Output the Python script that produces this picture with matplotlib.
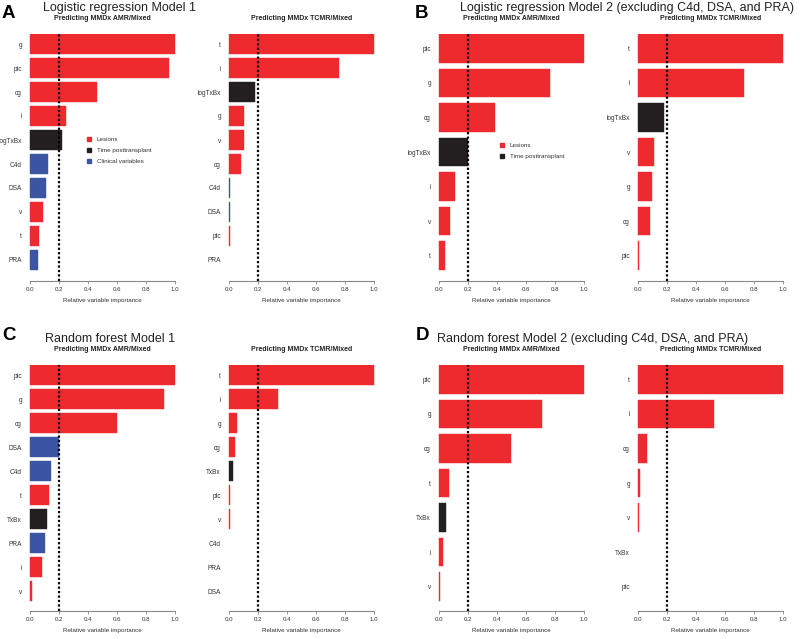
import matplotlib
matplotlib.use('Agg')
import matplotlib.pyplot as plt
from matplotlib.lines import Line2D

plt.rcParams['font.family'] = ['Liberation Sans', 'DejaVu Sans']

W, H = 800, 639

# group codes: L = lesion, T = time posttransplant, C = clinical variable
colors = {'L': '#EE2A2E', 'T': '#231F20', 'C': '#3B54A3'}

# A: logistic regression model 1
a_amr_vars = ['g', 'ptc', 'cg', 'i', 'logTxBx', 'C4d', 'DSA', 'v', 't', 'PRA']
a_amr_vals = [1.0, 0.96, 0.464, 0.246, 0.221, 0.124, 0.108, 0.092, 0.064, 0.055]
a_amr_grp = ['L', 'L', 'L', 'L', 'T', 'C', 'C', 'L', 'L', 'C']

a_tcmr_vars = ['t', 'i', 'logTxBx', 'g', 'v', 'cg', 'C4d', 'DSA', 'ptc', 'PRA']
a_tcmr_vals = [1.0, 0.759, 0.179, 0.103, 0.101, 0.083, 0.009, 0.007, 0.007, 0.0]
a_tcmr_grp = ['L', 'L', 'T', 'L', 'L', 'L', 'C', 'C', 'L', 'C']

# B: logistic regression model 2
b_amr_vars = ['ptc', 'g', 'cg', 'logTxBx', 'i', 'v', 't']
b_amr_vals = [1.0, 0.766, 0.384, 0.198, 0.108, 0.074, 0.039]
b_amr_grp = ['L', 'L', 'L', 'T', 'L', 'L', 'L']

b_tcmr_vars = ['t', 'i', 'logTxBx', 'v', 'g', 'cg', 'ptc']
b_tcmr_vals = [1.0, 0.731, 0.177, 0.108, 0.099, 0.083, 0.007]
b_tcmr_grp = ['L', 'L', 'T', 'L', 'L', 'L', 'L']

# C: random forest model 1
c_amr_vars = ['ptc', 'g', 'cg', 'DSA', 'C4d', 't', 'TxBx', 'PRA', 'i', 'v']
c_amr_vals = [1.0, 0.924, 0.602, 0.197, 0.145, 0.131, 0.115, 0.103, 0.080, 0.011]
c_amr_grp = ['L', 'L', 'L', 'C', 'C', 'L', 'T', 'C', 'L', 'L']

c_tcmr_vars = ['t', 'i', 'g', 'cg', 'TxBx', 'ptc', 'v', 'C4d', 'PRA', 'DSA']
c_tcmr_vals = [1.0, 0.338, 0.053, 0.041, 0.028, 0.007, 0.007, 0.0, 0.0, 0.0]
c_tcmr_grp = ['L', 'L', 'L', 'L', 'T', 'L', 'L', 'C', 'C', 'C']

# D: random forest model 2
d_amr_vars = ['ptc', 'g', 'cg', 't', 'TxBx', 'i', 'v']
d_amr_vals = [1.0, 0.713, 0.494, 0.069, 0.051, 0.028, 0.009]
d_amr_grp = ['L', 'L', 'L', 'L', 'T', 'L', 'L']

d_tcmr_vars = ['t', 'i', 'cg', 'g', 'v', 'TxBx', 'ptc']
d_tcmr_vals = [1.0, 0.522, 0.064, 0.016, 0.007, 0.0, 0.0]
d_tcmr_grp = ['L', 'L', 'L', 'L', 'L', 'T', 'L']

fig = plt.figure(figsize=(W / 100, H / 100), dpi=100)


def panel(x0, top, bottom, axis_y, names, vals, grp, subtitle):
    # x0: pixel of value 0, 145 px per unit; top/bottom: pixel span of the bars
    span = 145
    left = x0 - 0.04 * span
    ax = fig.add_axes([left / W, 1 - axis_y / H, 1.08 * span / W, (axis_y - top) / H])
    n = len(names)
    h = 1 / 1.2
    ppu = (bottom - top) / (n - 1 + h)
    pos = [n - 1 - k for k in range(n)]
    cols = [colors[g] for g in grp]
    # tiny values still show as a thin coloured line, zeros show nothing
    ax.barh(pos, vals, height=h, color=cols,
            edgecolor=[c if v > 0 else 'none' for c, v in zip(cols, vals)], linewidth=0.3)
    ax.set_xlim(-0.04, 1.04)
    ax.set_ylim(-h / 2 - (axis_y - bottom) / ppu, n - 1 + h / 2)
    ax.axvline(0.2, color='black', ls=(0, (1, 1)), lw=1.6)
    for s in ['top', 'right', 'left']:
        ax.spines[s].set_visible(False)
    ax.spines['bottom'].set_bounds(0, 1)
    ax.spines['bottom'].set_color('#888888')
    ax.spines['bottom'].set_linewidth(0.8)
    ax.set_xticks([0, 0.2, 0.4, 0.6, 0.8, 1.0])
    ax.set_xticklabels(['0.0', '0.2', '0.4', '0.6', '0.8', '1.0'])
    ax.tick_params(axis='x', length=2, width=0.6, color='#888888', labelsize=4.4, pad=2.5, labelcolor='#333333')
    ax.set_yticks(pos)
    ax.set_yticklabels(names)
    ax.tick_params(axis='y', length=0, labelsize=4.7, pad=1.6, labelcolor='#333333')
    ax.set_xlabel('Relative variable importance', fontsize=4.5, labelpad=4, color='#333333')
    fig.text((x0 + span / 2) / W, 1 - (top - 14) / H, subtitle, ha='center', va='baseline',
             fontsize=5, fontweight='bold', color='#222222')
    return ax


row1 = (34, 270, 281)
row2 = (365, 601, 611)

ax_a = panel(30, *row1, a_amr_vars, a_amr_vals, a_amr_grp, 'Predicting MMDx AMR/Mixed')
panel(229, *row1, a_tcmr_vars, a_tcmr_vals, a_tcmr_grp, 'Predicting MMDx TCMR/Mixed')
ax_b = panel(439, *row1, b_amr_vars, b_amr_vals, b_amr_grp, 'Predicting MMDx AMR/Mixed')
panel(638, *row1, b_tcmr_vars, b_tcmr_vals, b_tcmr_grp, 'Predicting MMDx TCMR/Mixed')
panel(30, *row2, c_amr_vars, c_amr_vals, c_amr_grp, 'Predicting MMDx AMR/Mixed')
panel(229, *row2, c_tcmr_vars, c_tcmr_vals, c_tcmr_grp, 'Predicting MMDx TCMR/Mixed')
panel(439, *row2, d_amr_vars, d_amr_vals, d_amr_grp, 'Predicting MMDx AMR/Mixed')
panel(638, *row2, d_tcmr_vars, d_tcmr_vals, d_tcmr_grp, 'Predicting MMDx TCMR/Mixed')


def handles(keys, labels):
    return [Line2D([], [], marker='s', ls='', color=colors[k], markersize=2.6) for k in keys], labels


hl, lb = handles(['L', 'T', 'C'], ['Lesions', 'Time posttransplant', 'Clinical variables'])
ax_a.legend(hl, lb, loc='upper left', bbox_to_anchor=(86 / W, 1 - 137 / H), bbox_transform=fig.transFigure,
            frameon=False, fontsize=4.5, handlelength=1, handletextpad=0.7, labelspacing=0.85, borderpad=0,
            borderaxespad=0, labelcolor='#333333')
hl, lb = handles(['L', 'T'], ['Lesions', 'Time posttransplant'])
ax_b.legend(hl, lb, loc='upper left', bbox_to_anchor=(499 / W, 1 - 143 / H), bbox_transform=fig.transFigure,
            frameon=False, fontsize=4.5, handlelength=1, handletextpad=0.7, labelspacing=0.85, borderpad=0,
            borderaxespad=0, labelcolor='#333333')

# panel letters and titles
letters = [('A', 2, 18.3), ('B', 415, 18.3), ('C', 2, 340), ('D', 416, 340)]
for t, x, y in letters:
    fig.text(x / W, 1 - y / H, t, fontsize=13.5, fontweight='bold', ha='left', va='baseline')

titles = [('Logistic regression Model 1', 43, 11.5),
          ('Logistic regression Model 2 (excluding C4d, DSA, and PRA)', 460, 11.5),
          ('Random forest Model 1', 45, 342),
          ('Random forest Model 2 (excluding C4d, DSA, and PRA)', 437, 342)]
for t, x, y in titles:
    fig.text(x / W, 1 - y / H, t, fontsize=9, ha='left', va='baseline', color='#222222')

fig.savefig('out.png', dpi=100)
